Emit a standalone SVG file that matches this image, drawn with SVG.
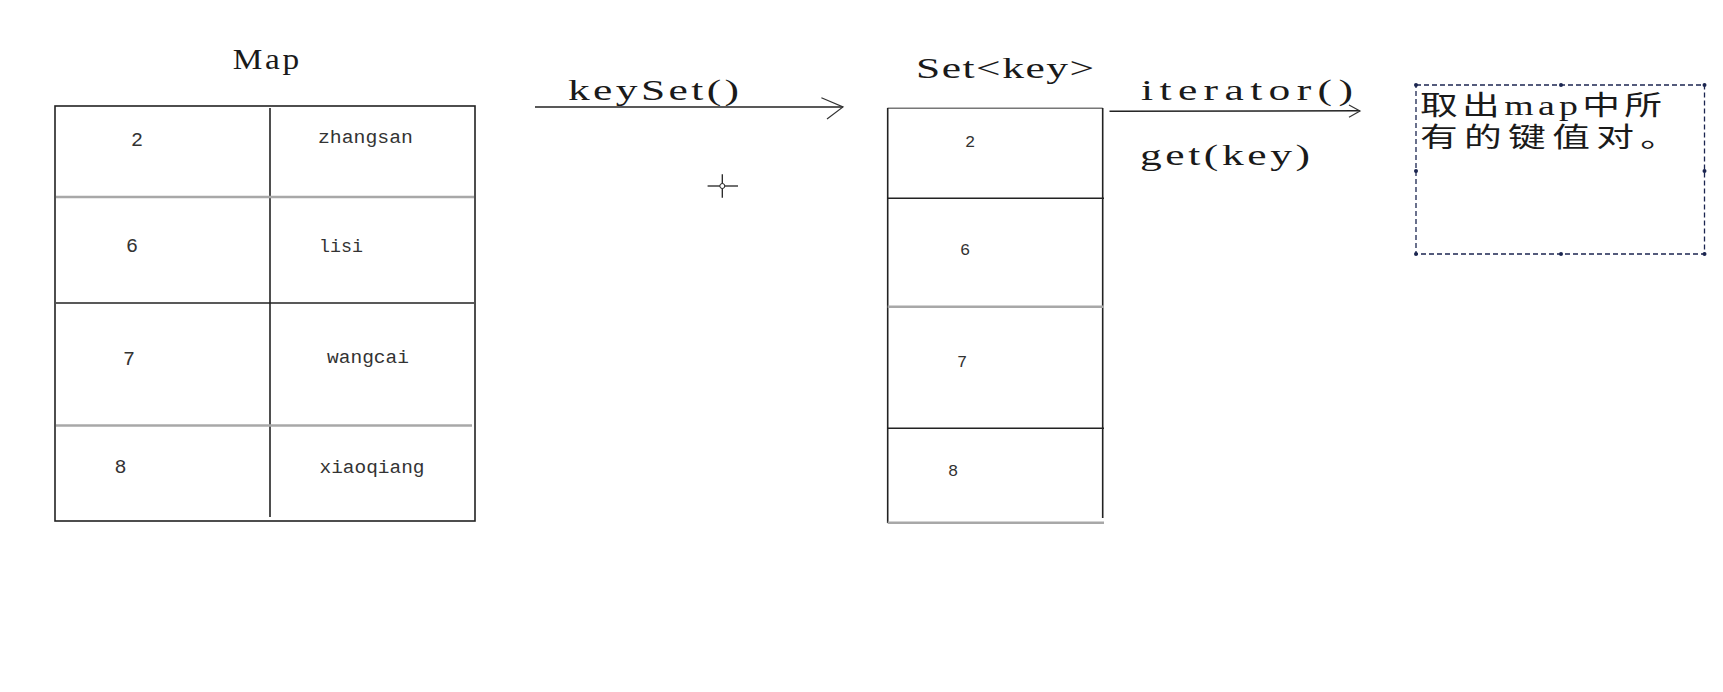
<svg xmlns="http://www.w3.org/2000/svg" width="1723" height="692" viewBox="0 0 1723 692">
<style>
.title{font-family:"Liberation Serif","Noto Sans CJK SC",serif;font-size:29px;fill:#1a1a1a;}
.cell{font-family:"Liberation Mono",monospace;font-size:19px;fill:#333;}
.dig{font-family:"Liberation Mono",monospace;font-size:20px;fill:#333;text-anchor:middle;}
.sdig{font-family:"Liberation Mono",monospace;font-size:17px;fill:#333;text-anchor:middle;}
.blk{stroke:#222;stroke-width:1.6;fill:none;}
.gry{stroke:#a8a8a8;stroke-width:2.6;fill:none;}
.conn{stroke:#222;stroke-width:1.6;fill:none;}
.head{stroke:#333;stroke-width:1.2;fill:none;}
.cjk{font-family:"Liberation Serif","Noto Sans CJK SC",serif;font-size:27px;fill:#1a1a1a;}
.handle{fill:#1b2550;}
</style>
<rect width="1723" height="692" fill="#ffffff"/>

<g id="map-node">
  <text class="title" transform="translate(232.7,69) scale(1.15,1)" x="0" y="0" textLength="57.9" lengthAdjust="spacing">Map</text>
  <rect class="blk" x="55" y="106" width="420" height="415"/>
  <line class="blk" x1="270" y1="108" x2="270" y2="517"/>
  <line class="gry" x1="56" y1="197" x2="474" y2="197"/>
  <line class="blk" x1="56" y1="303" x2="474" y2="303"/>
  <line class="gry" x1="56" y1="425.5" x2="472" y2="425.5"/>
  <text class="dig" x="137" y="146">2</text>
  <text class="cell" x="318" y="143" textLength="95" lengthAdjust="spacingAndGlyphs">zhangsan</text>
  <text class="dig" x="132" y="252">6</text>
  <text class="cell" x="319" y="252" textLength="44" lengthAdjust="spacingAndGlyphs">lisi</text>
  <text class="dig" x="129" y="365">7</text>
  <text class="cell" x="327" y="363" textLength="82" lengthAdjust="spacingAndGlyphs">wangcai</text>
  <text class="dig" x="120.5" y="473">8</text>
  <text class="cell" x="319.5" y="473" textLength="105" lengthAdjust="spacingAndGlyphs">xiaoqiang</text>
</g>

<g id="set-node">
  <text class="title" transform="translate(916,78) scale(1.5,1)" x="0" y="0" textLength="118.7" lengthAdjust="spacing">Set&lt;key&gt;</text>
  <line stroke="#777" stroke-width="1.4" x1="887.5" y1="108.3" x2="1102.7" y2="108.3"/>
  <line class="blk" x1="887.7" y1="108" x2="887.7" y2="523"/>
  <line class="blk" x1="1102.7" y1="108" x2="1102.7" y2="518"/>
  <line class="blk" x1="887.7" y1="198.3" x2="1104" y2="198.3"/>
  <line class="gry" x1="887.7" y1="306.7" x2="1104" y2="306.7"/>
  <line class="blk" x1="887.7" y1="428.3" x2="1104" y2="428.3"/>
  <line class="gry" x1="887.7" y1="522.7" x2="1104" y2="522.7"/>
  <text class="sdig" x="970" y="147">2</text>
  <text class="sdig" x="965" y="255">6</text>
  <text class="sdig" x="962" y="367">7</text>
  <text class="sdig" x="953" y="476">8</text>
</g>

<g id="note-node">
  <rect x="1416" y="85" width="288.5" height="169" fill="none" stroke="#1b2550" stroke-width="1.3" stroke-dasharray="5 3"/>
  <circle class="handle" cx="1416" cy="85" r="2"/>
  <circle class="handle" cx="1561" cy="85" r="2"/>
  <circle class="handle" cx="1704.5" cy="85" r="2"/>
  <circle class="handle" cx="1416" cy="171" r="2"/>
  <circle class="handle" cx="1704.5" cy="171" r="2"/>
  <circle class="handle" cx="1416" cy="254" r="2"/>
  <circle class="handle" cx="1561" cy="254" r="2"/>
  <circle class="handle" cx="1704.5" cy="254" r="2"/>
  <text class="cjk" transform="translate(1420,115) scale(1.4,1)" x="0" y="0" textLength="172.9" lengthAdjust="spacing">取出map中所</text>
  <text class="cjk" transform="translate(1420,147) scale(1.4,1)" x="0" y="0" textLength="184.3" lengthAdjust="spacing">有的键值对。</text>
</g>

<g id="connectors">
  <line class="conn" x1="535" y1="107" x2="843" y2="107"/>
  <polyline class="head" points="821.4,97.7 843,107 827,119"/>
  <text class="title" transform="translate(568,100) scale(1.5,1)" x="0" y="0" textLength="114" lengthAdjust="spacing">keySet()</text>
  <line class="conn" x1="1109.5" y1="111.3" x2="1360" y2="110.8"/>
  <polyline class="head" points="1349,105 1360,111 1349,117.3"/>
  <text class="title" transform="translate(1141,100) scale(1.5,1)" x="0" y="0" textLength="141.3" lengthAdjust="spacing">iterator()</text>
  <text class="title" transform="translate(1140,165) scale(1.5,1)" x="0" y="0" textLength="113.3" lengthAdjust="spacing">get(key)</text>
</g>

<g id="cursor">
  <line stroke="#222" stroke-width="1.3" x1="707.6" y1="186" x2="738" y2="186"/>
  <line stroke="#222" stroke-width="1.3" x1="722.3" y1="174.3" x2="722.3" y2="197.7"/>
  <circle cx="722.3" cy="186" r="2.5" fill="#fff" stroke="#222" stroke-width="1"/>
</g>
</svg>
